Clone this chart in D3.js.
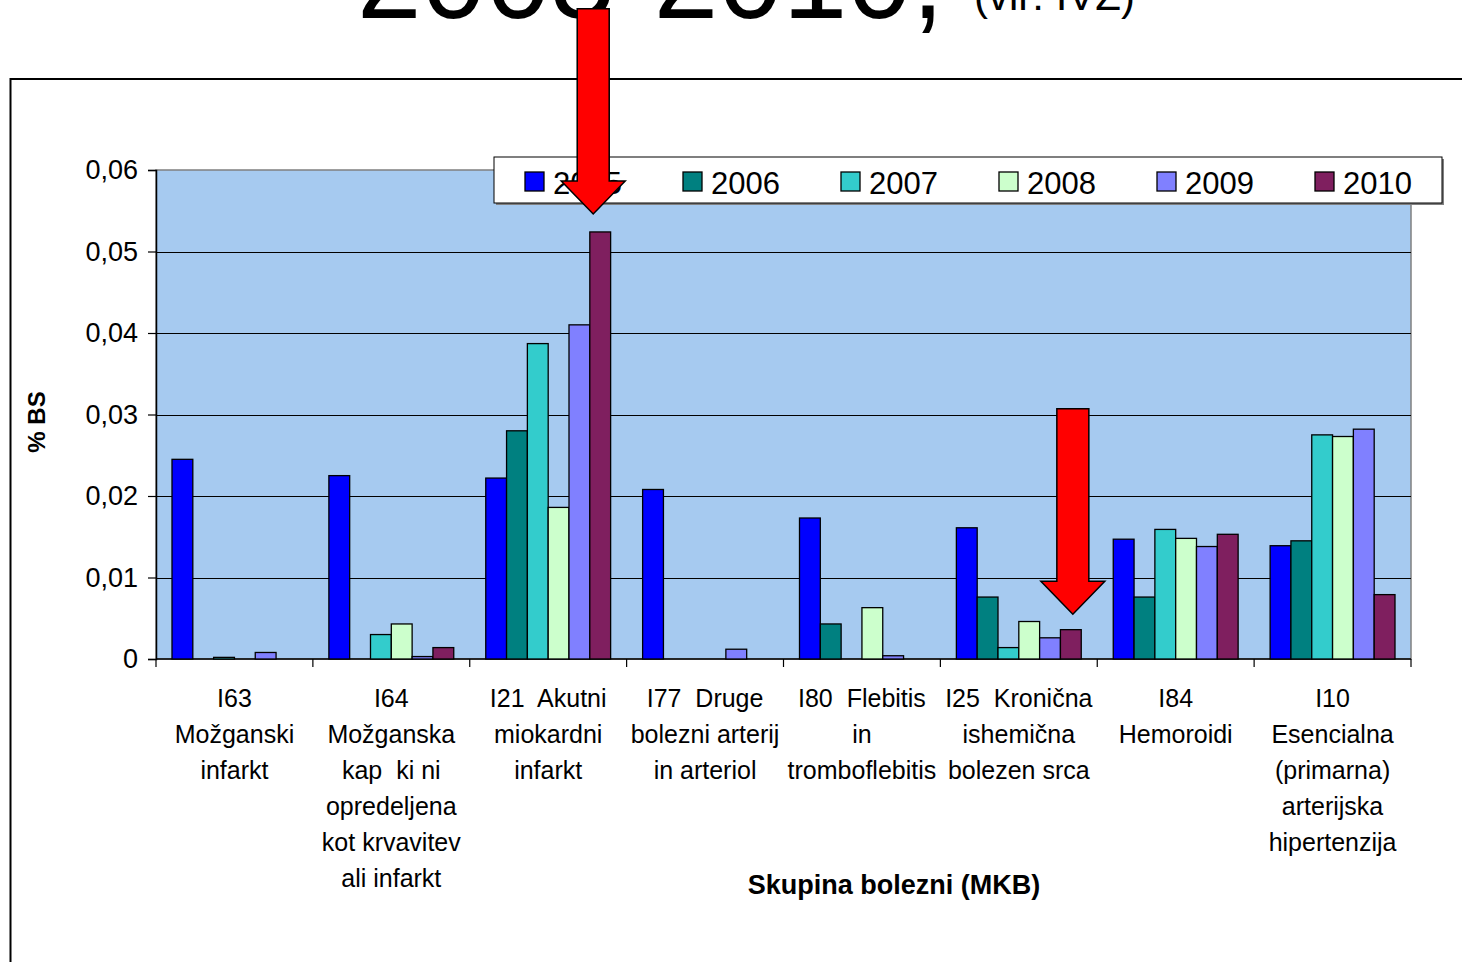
<!DOCTYPE html>
<html>
<head>
<meta charset="utf-8">
<script src="https://cdn.jsdelivr.net/npm/d3@7"></script>
<style>
  body { margin: 0; background: #fff; }
  text { font-family: "Liberation Sans", Arial, sans-serif; }
</style>
</head>
<body>
<svg id="chart" width="1462" height="962"></svg>
<script>
// categories (x labels, one array of lines per group)
const categories = [
  ["I63", "Možganski", "infarkt"],
  ["I64", "Možganska", "kap  ki ni", "opredeljena", "kot krvavitev", "ali infarkt"],
  ["I21  Akutni", "miokardni", "infarkt"],
  ["I77  Druge", "bolezni arterij", "in arteriol"],
  ["I80  Flebitis", "in", "tromboflebitis"],
  ["I25  Kronična", "ishemična", "bolezen srca"],
  ["I84", "Hemoroidi"],
  ["I10", "Esencialna", "(primarna)", "arterijska", "hipertenzija"]
];
const years = ["2005", "2006", "2007", "2008", "2009", "2010"];
const colors = ["#0000ff", "#008080", "#33cccc", "#ccffcc", "#8080ff", "#7f1f5f"];

const v2005 = [0.0245, 0.0225, 0.0222, 0.0208, 0.0173, 0.0161, 0.0147, 0.0139];
const v2006 = [0, 0, 0.0280, 0, 0.0043, 0.0076, 0.0076, 0.0145];
const v2007 = [0.0002, 0.0030, 0.0387, 0, 0, 0.0014, 0.0159, 0.0275];
const v2008 = [0, 0.0043, 0.0186, 0, 0.0063, 0.0046, 0.0148, 0.0273];
const v2009 = [0.0008, 0.0003, 0.0410, 0.0012, 0.0004, 0.0026, 0.0138, 0.0282];
const v2010 = [0, 0.0014, 0.0524, 0, 0, 0.0036, 0.0153, 0.0079];
const series = [v2005, v2006, v2007, v2008, v2009, v2010];

const yTicks = [0, 0.01, 0.02, 0.03, 0.04, 0.05, 0.06];

// red arrows (category index, year, top value, tip value)
const arrowCat = [2, 5];
const arrowYear = ["2010", "2010"];
const arrowTop = [0.0798, 0.0307];
const arrowTip = [0.0546, 0.0055];

const svg = d3.select("#chart");
const plotL = 156, plotR = 1411, plotT = 170, plotB = 659;

const catKeys = categories.map((d, i) => i);
const x0 = d3.scaleBand().domain(catKeys).range([plotL, plotR])
  .paddingInner(0.204).paddingOuter(0.102);
const x1 = d3.scaleBand().domain(years).range([0, x0.bandwidth()]);
const y = d3.scaleLinear().domain([0, 0.06]).range([plotB, plotT]);
const color = d3.scaleOrdinal().domain(years).range(colors);

// outer frame
svg.append("rect")
  .attr("x", 10.5).attr("y", 79).attr("width", 1500).attr("height", 1000)
  .attr("fill", "none").attr("stroke", "#000").attr("stroke-width", 2);

// title (cut at top)
svg.append("text").attr("x", 357).attr("y", 18)
  .attr("font-size", 116).text("2005-2010,");
svg.append("text").attr("x", 974).attr("y", 10)
  .attr("font-size", 42).text("(vir: IVZ)");

// plot area
svg.append("rect")
  .attr("x", plotL).attr("y", plotT).attr("width", plotR - plotL).attr("height", plotB - plotT)
  .attr("fill", "#a6caf0").attr("stroke", "#808080").attr("stroke-width", 1.5);

// gridlines
svg.append("g").selectAll("line")
  .data(yTicks.slice(1, -1))
  .join("line")
    .attr("x1", plotL).attr("x2", plotR)
    .attr("y1", d => Math.round(y(d)) + 0.5).attr("y2", d => Math.round(y(d)) + 0.5)
    .attr("stroke", "#000").attr("stroke-width", 1.2);

// y axis
const yAxis = d3.axisLeft(y).tickValues(yTicks).tickSize(8).tickPadding(10)
  .tickFormat(d => d === 0 ? "0" : d3.format(".2f")(d).replace(".", ","));
svg.append("g")
  .attr("transform", `translate(${plotL},0)`)
  .call(yAxis)
  .call(g => g.selectAll("text").attr("font-size", 27).attr("fill", "#000")
    .attr("font-family", "'Liberation Sans', Arial, sans-serif"))
  .call(g => g.selectAll("line").attr("stroke", "#000").attr("stroke-width", 1.2))
  .call(g => g.select(".domain").attr("stroke", "#000").attr("stroke-width", 1.5));

// x axis line and ticks at category boundaries
const bounds = d3.range(categories.length + 1).map(i => plotL + i * x0.step());
svg.append("line").attr("x1", plotL).attr("x2", plotR)
  .attr("y1", plotB).attr("y2", plotB).attr("stroke", "#000").attr("stroke-width", 1.5);
svg.append("g").selectAll("line")
  .data(bounds)
  .join("line")
    .attr("x1", d => d).attr("x2", d => d)
    .attr("y1", plotB).attr("y2", plotB + 8)
    .attr("stroke", "#000").attr("stroke-width", 1.2);

// bars
svg.append("g").selectAll("g")
  .data(catKeys)
  .join("g")
    .attr("transform", c => `translate(${x0(c)},0)`)
  .selectAll("rect")
  .data(c => years.map((yr, j) => ({ yr, v: series[j][c] })).filter(d => d.v > 0))
  .join("rect")
    .attr("x", d => x1(d.yr))
    .attr("y", d => y(d.v))
    .attr("width", x1.bandwidth())
    .attr("height", d => plotB - y(d.v))
    .attr("fill", d => color(d.yr))
    .attr("stroke", "#000").attr("stroke-width", 1.3);

// x labels
const lab = svg.append("g").selectAll("text")
  .data(catKeys)
  .join("text")
    .attr("text-anchor", "middle")
    .attr("font-size", 25)
    .attr("fill", "#000")
    .attr("xml:space", "preserve")
    .style("white-space", "pre");
lab.selectAll("tspan")
  .data(c => categories[c].map(t => ({ c, t })))
  .join("tspan")
    .attr("x", d => x0(d.c) + x0.bandwidth() / 2)
    .attr("y", (d, i) => 707 + i * 36)
    .text(d => d.t);

// axis titles
svg.append("text")
  .attr("transform", `translate(45,422) rotate(-90)`)
  .attr("text-anchor", "middle").attr("font-size", 24).attr("font-weight", "bold")
  .text("% BS");
svg.append("text")
  .attr("x", 894).attr("y", 894)
  .attr("text-anchor", "middle").attr("font-size", 27).attr("font-weight", "bold")
  .text("Skupina bolezni (MKB)");

// legend
const lg = svg.append("g").attr("transform", "translate(494,157)");
lg.append("rect").attr("x", 2).attr("y", 2).attr("width", 948).attr("height", 46).attr("fill", "#808080");
lg.append("rect").attr("width", 948).attr("height", 46)
  .attr("fill", "#fff").attr("stroke", "#000").attr("stroke-width", 1);
const li = lg.selectAll("g.item")
  .data(years)
  .join("g")
    .attr("class", "item")
    .attr("transform", (d, i) => `translate(${31 + i * 158},0)`);
li.append("rect").attr("x", 0).attr("y", 15).attr("width", 19).attr("height", 19)
  .attr("fill", d => color(d)).attr("stroke", "#000").attr("stroke-width", 1.3);
li.append("text").attr("x", 28).attr("y", 37).attr("font-size", 31).text(d => d);

// red arrows
const arrowDx = [-7, 2];
function arrowPath(cx, yTop, yTip) {
  const sh = 16, hh = 32, hl = 33;
  return `M${cx - sh},${yTop} L${cx + sh},${yTop} L${cx + sh},${yTip - hl} L${cx + hh},${yTip - hl}` +
    ` L${cx},${yTip} L${cx - hh},${yTip - hl} L${cx - sh},${yTip - hl} Z`;
}
svg.append("g").selectAll("path")
  .data(arrowCat.map((c, i) => ({ c, yr: arrowYear[i], t: arrowTop[i], p: arrowTip[i], dx: arrowDx[i] })))
  .join("path")
    .attr("d", d => arrowPath(x0(d.c) + x1(d.yr) + x1.bandwidth() / 2 + d.dx, y(d.t), y(d.p)))
    .attr("fill", "#ff0000").attr("stroke", "#000").attr("stroke-width", 1.5)
    .attr("stroke-linejoin", "miter");
</script>
</body>
</html>
